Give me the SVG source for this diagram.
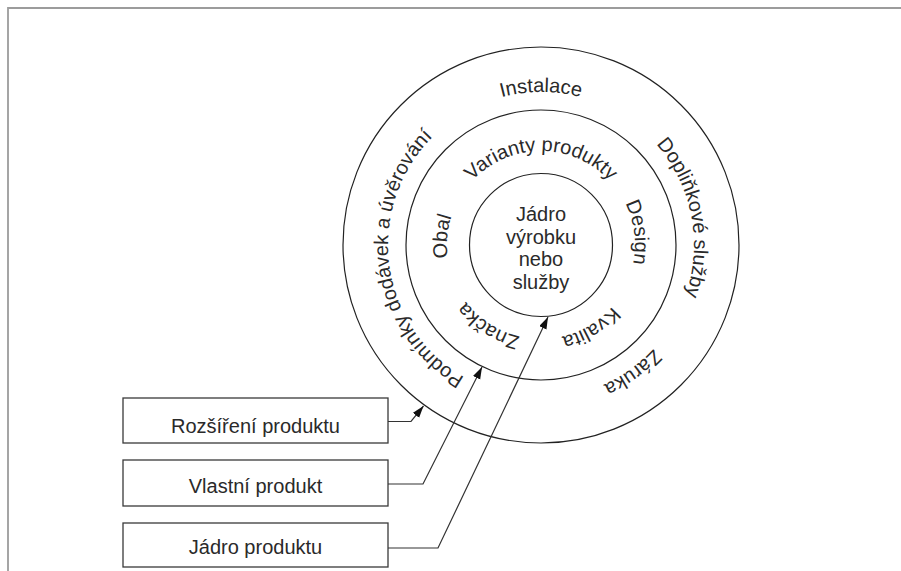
<svg xmlns="http://www.w3.org/2000/svg" xmlns:xlink="http://www.w3.org/1999/xlink" width="901" height="571" viewBox="0 0 901 571">
<style>
.frame{fill:none;stroke:#9c9c9c;stroke-width:1.8}
.ring{fill:none;stroke:#222;stroke-width:1.2}
.box{fill:#fff;stroke:#3a3a3a;stroke-width:1.3}
.t{font-family:"Liberation Sans",Arial,sans-serif;font-size:20px;fill:#2a2a2a}
.c{text-anchor:middle}
.conn{fill:none;stroke:#333;stroke-width:1.2}
</style>
<defs>
<marker id="arr" markerUnits="userSpaceOnUse" markerWidth="14" markerHeight="10" refX="12" refY="4" orient="auto">
<path d="M0,0 L12,4 L0,8 z" fill="#111"/>
</marker>
<path id="po" d="M388,245 A153,153 0 1 1 694,245 A153,153 0 1 1 388,245 A153,153 0 1 1 694,245 A153,153 0 1 1 388,245"/>
<path id="pm" d="M447,245 A94,94 0 1 1 635,245 A94,94 0 1 1 447,245 A94,94 0 1 1 635,245 A94,94 0 1 1 447,245"/>
</defs>
<rect width="901" height="571" fill="#fff"/>
<path class="frame" d="M8,571 V8 H901"/>

<g id="outer-ring">
<circle class="ring" cx="541" cy="245" r="198"/>
<text class="t c"><textPath xlink:href="#po" href="#po" startOffset="62.5%">Instalace</textPath></text>
<text class="t c"><textPath xlink:href="#po" href="#po" startOffset="73.47%">Dopliňkové služby</textPath></text>
<text class="t c"><textPath xlink:href="#po" href="#po" startOffset="32.54%">Záruka</textPath></text>
<text class="t c"><textPath xlink:href="#po" href="#po" startOffset="48.96%">Podmínky dodávek a úvěrování</textPath></text>
</g>

<g id="middle-ring">
<circle class="ring" cx="541" cy="245" r="135"/>
<text class="t c"><textPath xlink:href="#pm" href="#pm" startOffset="62.5%">Varianty produkty</textPath></text>
<text class="t c"><textPath xlink:href="#pm" href="#pm" startOffset="73.96%">Design</textPath></text>
<text class="t c"><textPath xlink:href="#pm" href="#pm" startOffset="33.19%">Kvalita</textPath></text>
<text class="t c"><textPath xlink:href="#pm" href="#pm" startOffset="42.08%">Značka</textPath></text>
<text class="t c"><textPath xlink:href="#pm" href="#pm" startOffset="50.69%">Obal</textPath></text>
</g>

<g id="core">
<circle class="ring" cx="541" cy="245" r="71.5"/>
<text class="t c" x="541" y="221">Jádro</text>
<text class="t c" x="541" y="244">výrobku</text>
<text class="t c" x="541" y="266">nebo</text>
<text class="t c" x="541" y="289">služby</text>
</g>

<g id="box-rozsireni">
<rect class="box" x="123" y="398" width="265" height="45"/>
<text class="t c" x="255.5" y="433">Rozšíření produktu</text>
</g>
<g id="box-vlastni">
<rect class="box" x="123" y="460" width="265" height="46"/>
<text class="t c" x="255.5" y="493">Vlastní produkt</text>
</g>
<g id="box-jadro">
<rect class="box" x="123" y="523" width="265" height="44"/>
<text class="t c" x="255.5" y="554">Jádro produktu</text>
</g>

<g id="connectors">
<path class="conn" d="M388,421.5 H411 L423.5,406" marker-end="url(#arr)"/>
<path class="conn" d="M388,484 H423 L482,367" marker-end="url(#arr)"/>
<path class="conn" d="M388,548 H438 L548,317" marker-end="url(#arr)"/>
</g>
</svg>
